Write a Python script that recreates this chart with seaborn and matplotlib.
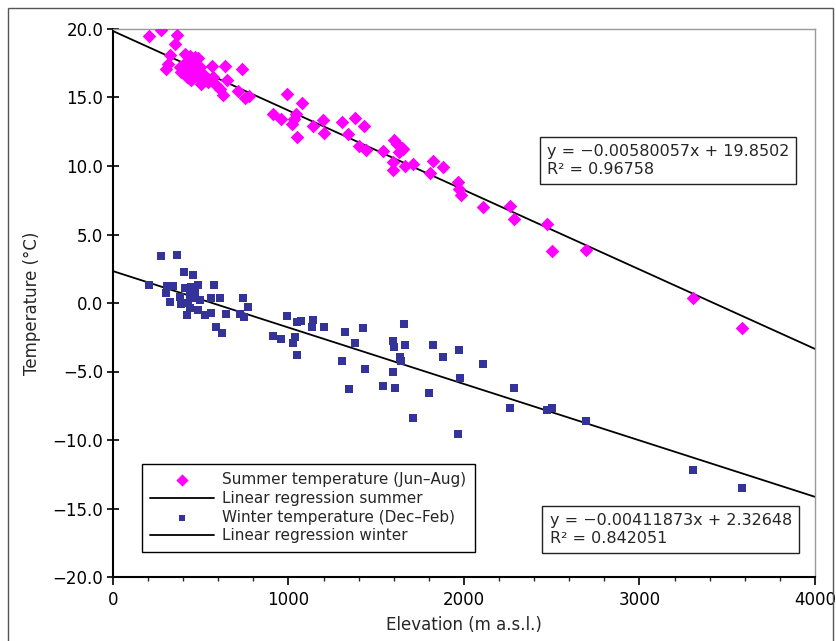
import numpy as np
import pandas as pd
import matplotlib
matplotlib.use("Agg")
import matplotlib.pyplot as plt
import seaborn as sns
from matplotlib.patches import Rectangle
from matplotlib.ticker import MultipleLocator, FuncFormatter

# ---------------- data ----------------
summer_elev = [205, 273, 367, 352, 326, 314, 300, 409, 440, 470, 485, 428, 381, 390,
               438, 466, 419, 447, 494, 565, 636, 737, 520, 561, 504, 432, 589, 608,
               627, 650, 712, 750, 775, 570, 400, 460, 510, 540, 480,
               990, 1078, 911, 958, 1021, 1030, 1044, 1049, 1138, 1199, 1205, 1303, 1337,
               1381, 1428, 1403, 1441, 1540, 1602, 1620, 1646, 1630, 1593, 1597, 1665,
               1650, 1710, 1825, 1878, 1806, 1968, 1973, 1981, 2106, 2262, 2285,
               2474, 2504, 2693, 3305, 3585]
summer_temp = [19.5, 19.9, 19.55, 18.9, 18.1, 17.45, 17.05, 18.2, 18.0, 17.95, 17.85, 17.6,
               17.2, 16.85, 16.9, 16.75, 16.5, 16.3, 17.25, 17.3, 17.3, 17.1, 16.4, 16.3,
               16.0, 16.4, 15.9, 15.65, 15.2, 16.25, 15.45, 14.95, 15.1, 16.5, 17.4, 17.5,
               16.7, 16.1, 16.55,
               15.25, 14.6, 13.8, 13.4, 13.1, 13.4, 13.8, 12.1, 12.9, 13.35, 12.4, 13.2, 12.3,
               13.5, 12.9, 11.45, 11.2, 11.1, 11.9, 11.6, 11.3, 11.0, 10.3, 9.7, 10.0,
               11.25, 10.15, 10.35, 9.9, 9.5, 8.8, 8.35, 7.9, 7.0, 7.05, 6.1,
               5.8, 3.8, 3.9, 0.35, -1.85]

winter_elev = [205, 273, 365, 305, 343, 301, 324, 407, 456, 409, 447, 485, 576, 381, 438,
               466, 390, 428, 456, 494, 561, 608, 438, 485, 419, 523, 561, 646, 722, 740,
               769, 589, 623, 744, 990, 1072, 1050, 911, 958, 1036, 1028, 1047, 1142, 1134,
               1200, 1324, 1381, 1426, 1303, 1437, 1343, 1593, 1602, 1636, 1593, 1536, 1608,
               1659, 1665, 1640, 1825, 1878, 1973, 2106, 1979, 1802, 1707, 1968, 2283, 2262,
               2474, 2504, 2693, 3305, 3585]
winter_temp = [1.3, 3.43, 3.53, 1.27, 1.27, 0.7, 0.05, 2.24, 2.04, 1.12, 1.19, 1.31, 1.31,
               0.46, 0.58, 0.7, -0.1, -0.02, 0.34, 0.22, 0.34, 0.34, -0.34, -0.5, -0.88,
               -0.88, -0.75, -0.83, -0.83, 0.34, -0.27, -1.78, -2.2, -1.05, -0.95, -1.3,
               -1.4, -2.4, -2.6, -2.5, -2.95, -3.8, -1.24, -1.78, -1.73, -2.1, -2.95, -1.8,
               -4.2, -4.8, -6.3, -2.75, -3.24, -3.97, -5.0, -6.06, -6.2, -1.53, -3.1, -4.2,
               -3.04, -3.94, -3.45, -4.45, -5.46, -6.58, -8.4, -9.58, -6.24, -7.66, -7.78,
               -7.66, -8.6, -12.2, -13.5]

summer_slope, summer_intercept, summer_r2 = -0.00580057, 19.8502, 0.96758
winter_slope, winter_intercept, winter_r2 = -0.00411873, 2.32648, 0.842051
line_x = np.array([0, 4000])

x_ticks = [0, 1000, 2000, 3000, 4000]
y_ticks = [-20, -15, -10, -5, 0, 5, 10, 15, 20]

summer_df = pd.DataFrame({"elev": summer_elev, "temp": summer_temp})
winter_df = pd.DataFrame({"elev": winter_elev, "temp": winter_temp})
summer_line = pd.DataFrame({"elev": line_x, "temp": summer_slope * line_x + summer_intercept})
winter_line = pd.DataFrame({"elev": line_x, "temp": winter_slope * line_x + winter_intercept})

# ---------------- figure ----------------
sns.set_theme(style="ticks")
plt.rcParams["font.family"] = ["DejaVu Sans"]

fig = plt.figure(figsize=(8.37, 6.41), dpi=100)
fig.patch.set_facecolor("white")
ax = fig.add_axes([113 / 837, 1 - 577 / 641, 702 / 837, 548 / 641])
ax.set_facecolor("white")

sns.scatterplot(data=summer_df, x="elev", y="temp", marker="D", s=48, color="#ff00ff",
                linewidth=0, ax=ax, label="Summer temperature (Jun\u2013Aug)", zorder=3)
sns.lineplot(data=summer_line, x="elev", y="temp", color="black", linewidth=1.3,
             ax=ax, label="Linear regression summer", zorder=2)
sns.scatterplot(data=winter_df, x="elev", y="temp", marker="s", s=30, color="#333399",
                linewidth=0, ax=ax, label="Winter temperature (Dec\u2013Feb)", zorder=3)
sns.lineplot(data=winter_line, x="elev", y="temp", color="black", linewidth=1.3,
             ax=ax, label="Linear regression winter", zorder=2)

ax.set_xlim(0, 4000)
ax.set_ylim(-20, 20)
ax.set_xticks(x_ticks)
ax.set_yticks(y_ticks)
ax.xaxis.set_minor_locator(MultipleLocator(200))
ax.yaxis.set_major_formatter(FuncFormatter(
    lambda v, p: ("%.1f" % v).replace("-", "\u2212")))

ax.tick_params(axis="x", which="major", direction="out", length=6, width=1.2,
               labelsize=12, colors="black", pad=4)
ax.tick_params(axis="x", which="minor", direction="out", length=3, width=1)
ax.tick_params(axis="y", which="major", direction="inout", length=8, width=1.2,
               labelsize=12, colors="black", pad=3)

ax.set_xlabel("Elevation (m a.s.l.)", fontsize=12, labelpad=5)
ax.set_ylabel("Temperature (\u00b0C)", fontsize=12, labelpad=8)

for side in ["left", "bottom"]:
    ax.spines[side].set_color("black")
    ax.spines[side].set_linewidth(1.5)
for side in ["top", "right"]:
    ax.spines[side].set_color("#999999")
    ax.spines[side].set_linewidth(1.0)

handles, labels = ax.get_legend_handles_labels()
leg = ax.legend(handles, labels, loc="lower left", bbox_to_anchor=(0.041, 0.046),
                fontsize=11, frameon=True, fancybox=False, framealpha=1,
                edgecolor="black", handlelength=4.2, handletextpad=0.5,
                borderpad=0.55, labelspacing=0.24, borderaxespad=0, markerscale=0.9)
leg.get_frame().set_linewidth(1.0)

box_style = dict(boxstyle="square,pad=0.45", facecolor="white", edgecolor="#222222",
                 linewidth=1.0)
ax.text(0.618, 0.79, "y = \u22120.00580057x + 19.8502\nR\u00b2 = 0.96758",
        transform=ax.transAxes, ha="left", va="top", fontsize=11.5, linespacing=1.25,
        bbox=box_style, zorder=5)
ax.text(0.622, 0.117, "y = \u22120.00411873x + 2.32648\nR\u00b2 = 0.842051",
        transform=ax.transAxes, ha="left", va="top", fontsize=11.5, linespacing=1.25,
        bbox=box_style, zorder=5)

# outer frame of the figure
fig.patches.append(Rectangle((8 / 837, -0.05), (833 - 8) / 837, 1.05 - 8 / 641,
                             transform=fig.transFigure, fill=False,
                             edgecolor="#555555", linewidth=1.0))

fig.savefig("out.png", dpi=100, facecolor="white")
